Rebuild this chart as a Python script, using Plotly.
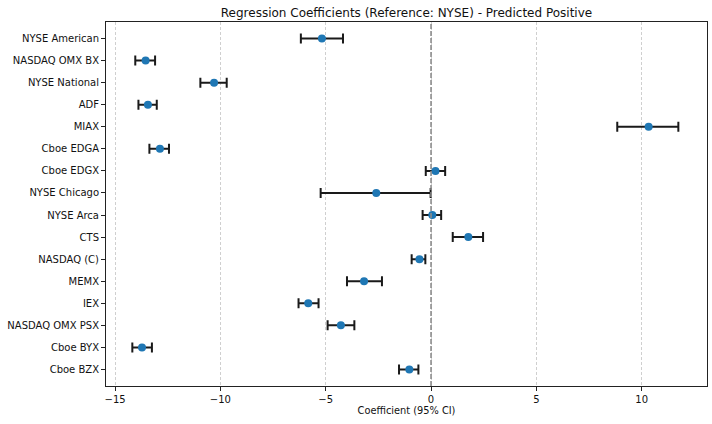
import plotly.graph_objects as go

exchanges = ["NYSE American", "NASDAQ OMX BX", "NYSE National", "ADF", "MIAX",
             "Cboe EDGA", "Cboe EDGX", "NYSE Chicago", "NYSE Arca", "CTS",
             "NASDAQ (C)", "MEMX", "IEX", "NASDAQ OMX PSX", "Cboe BYX", "Cboe BZX"]
coef = [-5.18, -13.55, -10.30, -13.44, 10.33, -12.87, 0.21, -2.60, 0.06, 1.77,
        -0.55, -3.18, -5.83, -4.28, -13.72, -1.03]
ci_low = [-6.18, -14.04, -10.95, -13.89, 8.84, -13.37, -0.25, -5.24, -0.40, 1.03,
          -0.92, -3.99, -6.29, -4.91, -14.18, -1.52]
ci_high = [-4.18, -13.10, -9.70, -13.02, 11.74, -12.44, 0.67, -0.02, 0.48, 2.47,
           -0.27, -2.33, -5.34, -3.64, -13.25, -0.60]

err_plus = [h - c for h, c in zip(ci_high, coef)]
err_minus = [c - l for c, l in zip(coef, ci_low)]

font = "DejaVu Sans"
fig = go.Figure()
fig.add_trace(go.Scatter(
    x=coef, y=exchanges, mode="markers",
    marker=dict(color="#1f77b4", size=8),
    error_x=dict(type="data", symmetric=False, array=err_plus, arrayminus=err_minus,
                 color="#1a1a1a", thickness=2, width=5),
    showlegend=False,
))
fig.add_vline(x=0, line=dict(color="#8c8c8c", width=1.6, dash="5px,2px"))

fig.update_layout(
    width=712, height=424,
    margin=dict(l=106, r=5, t=22, b=38, autoexpand=False),
    paper_bgcolor="white", plot_bgcolor="white",
    font=dict(family=font, size=10, color="#111"),
    title=dict(text="Regression Coefficients (Reference: NYSE) - Predicted Positive",
               xref="paper", x=0.5, xanchor="center",
               yref="container", y=1 - 12.5 / 424, yanchor="middle",
               font=dict(size=12, family=font, color="#111")),
    xaxis=dict(range=[-15.43, 13.10], tickvals=[-15, -10, -5, 0, 5, 10],
               ticktext=["\u221215", "\u221210", "\u22125", "0", "5", "10"],
               showgrid=True, gridcolor="#cfcfcf", griddash="3px,2px",
               gridwidth=0.8, zeroline=False, automargin=False,
               showline=True, linecolor="#222", linewidth=1, mirror=True,
               ticks="outside", ticklen=4, tickcolor="#222",
               title=dict(text="Coefficient (95% CI)", standoff=3, font=dict(size=9.8))),
    yaxis=dict(type="category", categoryorder="array", categoryarray=exchanges,
               range=[15.75, -0.75], showgrid=False, zeroline=False, automargin=False,
               showline=True, linecolor="#222", linewidth=1, mirror=True,
               ticks="outside", ticklen=4, tickcolor="#222"),
)
fig.write_html("out.html", config={"displayModeBar": False},
               post_script="document.body.style.margin='0';")
